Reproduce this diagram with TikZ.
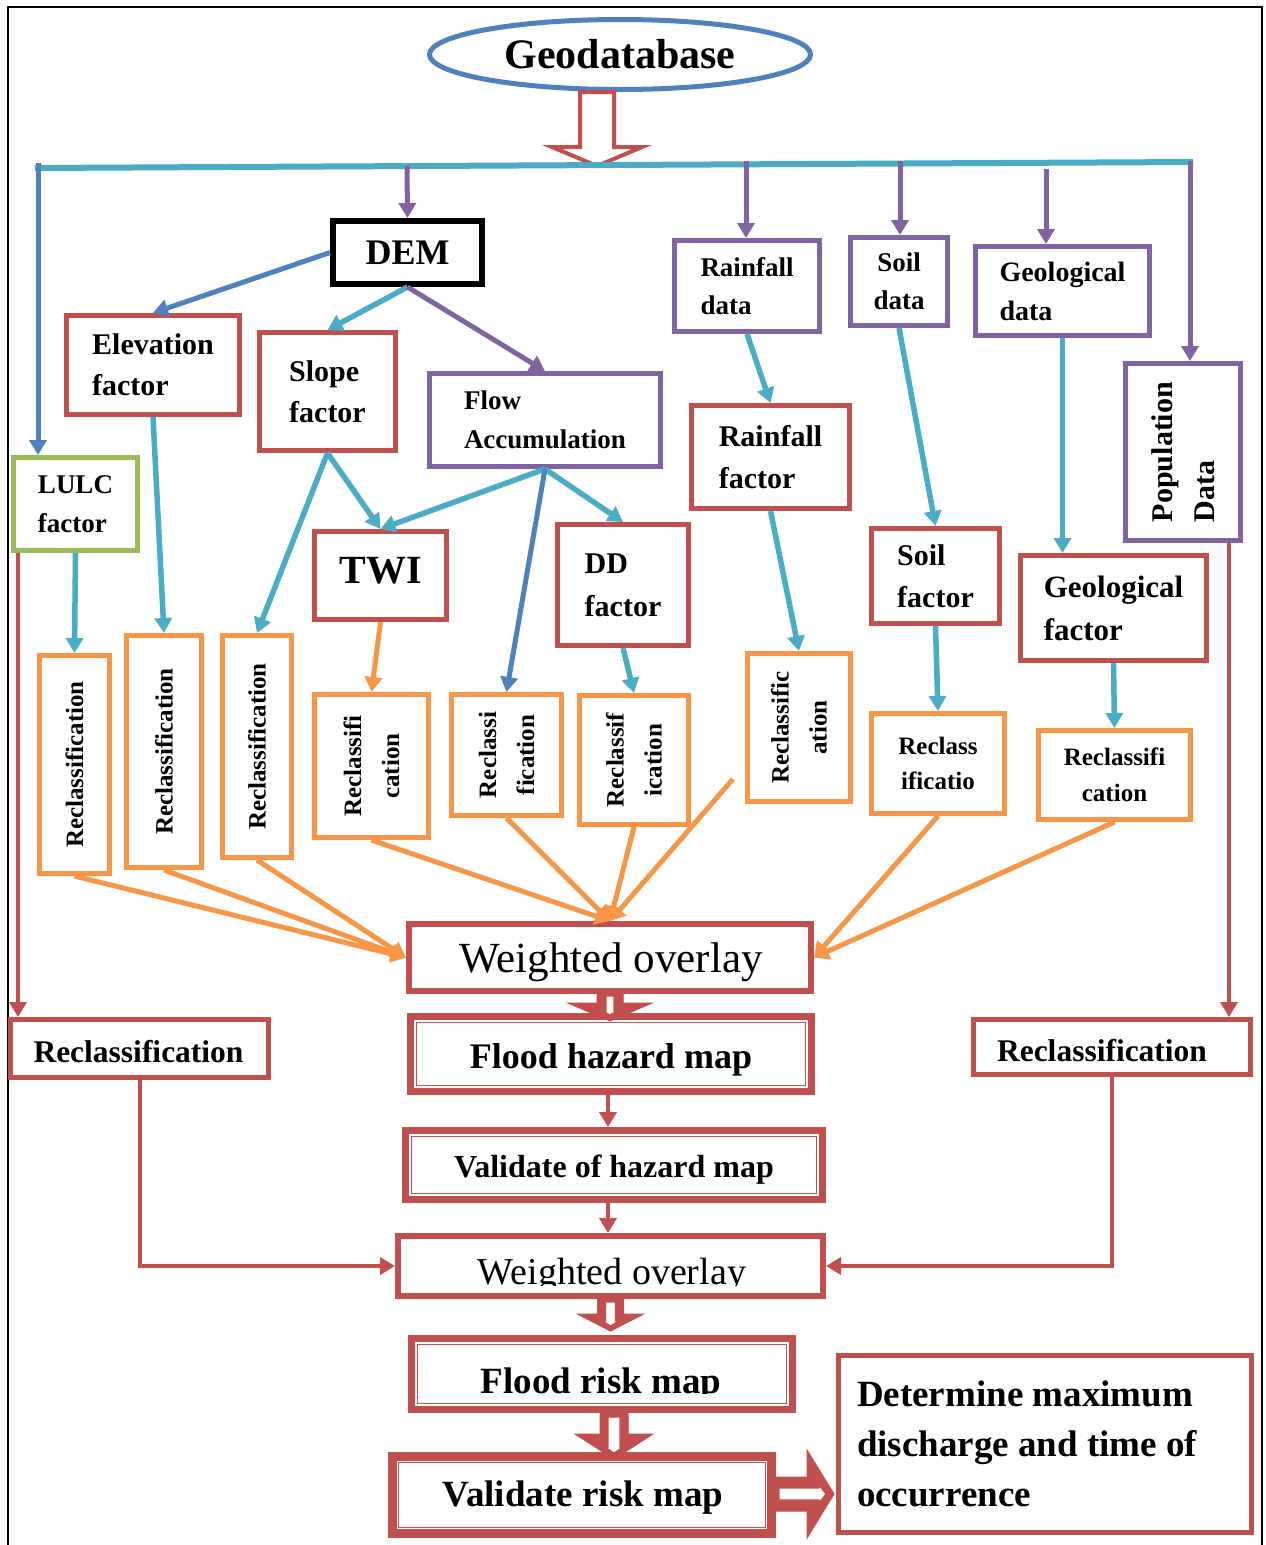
\documentclass[tikz,border=0pt]{standalone}
\usepackage{fontspec}
\setmainfont{Liberation Serif}
\usetikzlibrary{arrows.meta,shapes.geometric,calc}
\definecolor{cRed}{HTML}{C0504D}
\definecolor{cBlue}{HTML}{4F81BD}
\definecolor{cPurple}{HTML}{8064A2}
\definecolor{cTeal}{HTML}{4BACC6}
\definecolor{cOrange}{HTML}{F79646}
\definecolor{cGreen}{HTML}{9BBB59}
\newcommand{\fsz}[2]{\fontsize{#1}{#2}\selectfont}
% vertical block arrow: style, start, end, shaft half width, head half width, head length
\newcommand{\vblk}[6]{%
\path[#1] let \p1=(#2), \p2=(#3) in (\x1-#4,\y1) -- (\x1+#4,\y1) -- (\x1+#4,\y2+#6) -- (\x1+#5,\y2+#6) -- (\x1,\y2) -- (\x1-#5,\y2+#6) -- (\x1-#4,\y2+#6) -- cycle;}
% horizontal block arrow
\newcommand{\hblk}[6]{%
\path[#1] let \p1=(#2), \p2=(#3) in (\x1,\y1+#4) -- (\x2-#6,\y1+#4) -- (\x2-#6,\y1+#5) -- (\x2,\y1) -- (\x2-#6,\y1-#5) -- (\x2-#6,\y1-#4) -- (\x1,\y1-#4) -- cycle;}
\tikzset{
 sz/.style 2 args={minimum width=#1pt, minimum height=#2pt},
 bx/.style={draw, line width=5pt, inner sep=0pt, align=left, text=black},
 rbox/.style={bx, draw=cRed},
 pbox/.style={bx, draw=cPurple},
 obox/.style={bx, draw=cOrange},
 gbox/.style={bx, draw=cGreen},
 kbox/.style={bx, draw=black, line width=6pt},
 dbl/.style={bx, draw=cRed, line width=7pt},
 arrtip/.style={-{Triangle[length=15pt,width=17pt]}},
 tl/.style={arrtip, draw=cTeal, line width=5.5pt},
 pl/.style={arrtip, draw=cPurple, line width=5pt},
 bl/.style={arrtip, draw=cBlue, line width=5pt},
 ol/.style={arrtip, draw=cOrange, line width=5pt},
 rl/.style={arrtip, draw=cRed, line width=4pt},
 bigblk/.style={draw=cRed, fill=cRed, line width=1pt},
 slit/.style={draw=cRed, fill=white, line width=1.2pt},
 rtxt/.style={rotate=90, inner sep=0pt, align=center, font=\bfseries\fsz{25}{38}},
 inner/.style={draw=cRed, line width=1.8pt},
}
\begin{document}
\begin{tikzpicture}[x=1pt,y=-1pt]
\fill[white] (0,0) rectangle (1266,1545);
\useasboundingbox (0,0) rectangle (1266,1545);
\draw[black, line width=2pt] (8,1545) -- (8,7) -- (1262,7) -- (1262,1545);

% Geodatabase
\node[ellipse, draw=cBlue, line width=5pt, minimum width=381pt, minimum height=70pt, inner sep=0pt, font=\bfseries\fsz{42}{50}] (geo) at (620,54.5) {Geodatabase};
\coordinate (geotip) at (597,166);
\vblk{draw=cRed, fill=white, line width=4pt}{$(geo.south)+(-23,0)$}{geotip}{17pt}{45pt}{19pt}

% bus
\coordinate (busL) at (35,168);
\coordinate (busR) at (1193,162);
\draw[cTeal, line width=6pt] (busL) -- (busR);
\coordinate (dLulc) at (38,163);
\coordinate (dDem) at (407,166);
\coordinate (dRain) at (746,161);
\coordinate (dSoil) at (900,161);
\coordinate (dGeo) at (1046,169);
\coordinate (dPop) at (1190,161);

% nodes
\node[kbox, sz={149}{63}, font=\bfseries\fsz{36}{40}] (dem) at (407.5,252.5) {DEM};
\node[rbox, sz={173}{99}, font=\bfseries\fsz{30}{41}] (elev) at (153,365) {Elevation\\factor};
\node[rbox, sz={136}{118}, font=\bfseries\fsz{30}{41}] (slope) at (327.5,391.5) {Slope\\factor};
\node[pbox, sz={231}{93}, font=\bfseries\fsz{27}{39}] (flow) at (545,420) {Flow\\Accumulation};
\node[pbox, sz={145}{91}, font=\bfseries\fsz{27}{38}] (rdata) at (747,286) {Rainfall\\data};
\node[pbox, sz={97}{88}, align=center, font=\bfseries\fsz{27}{38}] (sdata) at (899,281.5) {Soil\\data};
\node[pbox, sz={174}{89}, font=\bfseries\fsz{28}{39}] (gdata) at (1062.5,291) {Geological\\data};
\node[pbox, sz={115}{177}] (pop) at (1183,452) {};
\node[rotate=90, align=left, inner sep=0pt, font=\bfseries\fsz{30}{42}] (popt) at (pop) {Population\\Data};
\node[gbox, sz={124}{93}, font=\bfseries\fsz{27}{39}] (lulc) at (75.5,504) {LULC\\factor};
\node[rbox, sz={158}{103}, font=\bfseries\fsz{30}{42}] (rfac) at (770.5,457) {Rainfall\\factor};
\node[rbox, sz={132}{88}] (twi) at (380.5,575.5) {};
\node[inner sep=0pt, font=\bfseries\fsz{40}{44}] (twit) at ($(twi)+(0,-5)$) {TWI};
\node[rbox, sz={131}{121}, font=\bfseries\fsz{30}{43}] (dd) at (623,585) {DD\\factor};
\node[rbox, sz={128}{95}, font=\bfseries\fsz{30}{42}] (sfac) at (935.5,576) {Soil\\factor};
\node[rbox, sz={186}{105}, font=\bfseries\fsz{31}{43}] (gfac) at (1113.5,608) {Geological\\factor};

% reclassification boxes
\node[obox, sz={70}{218}] (r1) at (74.5,764.5) {};
\node[rtxt] (r1t) at (r1) {Reclassification};
\node[obox, sz={75}{232}] (r2) at (164,751.5) {};
\node[rtxt] (r2t) at (r2) {Reclassification};
\node[obox, sz={69}{222}] (r3) at (257,746.5) {};
\node[rtxt] (r3t) at (r3) {Reclassification};
\node[obox, sz={114}{143}] (r4) at (371.5,766) {};
\node[rtxt] (r4t) at (r4) {Reclassifi\\cation};
\node[obox, sz={110}{121}] (r5) at (506.5,755) {};
\node[rtxt] (r5t) at (r5) {Reclassi\\fication};
\node[obox, sz={109}{129}] (r6) at (634,760) {};
\node[rtxt] (r6t) at (r6) {Reclassif\\ication};
\node[obox, sz={103}{148}] (r7) at (799,727.5) {};
\node[rtxt] (r7t) at (r7) {Reclassific\\ation};
\node[obox, sz={133}{100}, align=center, font=\bfseries\fsz{25}{35}] (r8) at (938,763.5) {Reclass\\ificatio};
\node[obox, sz={152}{89}, align=center, font=\bfseries\fsz{25}{36}] (r9) at (1114.5,775) {Reclassifi\\cation};
\coordinate (r7tail) at (733,779);

% lower part
\node[rbox, line width=6pt, sz={402}{67}] (wo1) at (610,957.5) {};
\node[inner sep=0pt, font=\fsz{43}{47}] (wo1t) at ($(wo1)+(1,5)$) {Weighted overlay};
\node[dbl, sz={401}{75}] (fhm) at (611,1054) {};
\node[inner sep=0pt, font=\bfseries\fsz{36}{40}] (fhmt) at ($(fhm)+(0,6)$) {Flood hazard map};
\node[dbl, sz={417}{69}] (vhm) at (614,1165) {};
\node[inner sep=0pt, font=\bfseries\fsz{32}{36}] (vhmt) at ($(vhm)+(0,5)$) {Validate of hazard map};
\node[rbox, line width=6pt, sz={425}{60}] (wo2) at (610.5,1266) {};
\begin{scope}
\clip (395,1236) rectangle (826,1285);
\node[anchor=base, inner sep=0pt, font=\fsz{38}{40}] (wo2t) at (612,1284) {Weighted overlay};
\end{scope}
\node[dbl, sz={381}{71}] (frm) at (602,1374) {};
\begin{scope}
\clip (405,1340) rectangle (800,1393);
\node[anchor=base, inner sep=0pt, font=\bfseries\fsz{37}{40}] (frmt) at (601,1393) {Flood risk map};
\end{scope}
\node[dbl, line width=9pt, sz={379}{77}] (vrm) at (582,1495) {};
\node[inner sep=0pt, font=\bfseries\fsz{37}{40}] (vrmt) at ($(vrm)+(1,3)$) {Validate risk map};
\node[rbox, sz={413}{177}, text width=376pt, font=\bfseries\fsz{37}{50}] (det) at (1045,1444) {\spaceskip=0.25em plus 0.1em\relax Determine maximum\\discharge and time of\\occurrence};
\node[rbox, sz={258}{58}] (recL) at (139.5,1048.5) {};
\node[inner sep=0pt, font=\bfseries\fsz{31.5}{36}] (recLt) at ($(recL)+(-1,3)$) {Reclassification};
\node[rbox, sz={277}{55}] (recR) at (1112,1047) {};
\node[inner sep=0pt, font=\bfseries\fsz{31.5}{36}] (recRt) at ($(recR)+(-10,4)$) {Reclassification};
\foreach \n in {fhm,vhm,frm}
  \draw[inner] ([shift={(9.5pt,-9.5pt)}]\n.north west) rectangle ([shift={(-9.5pt,9.5pt)}]\n.south east);
\draw[inner] ([shift={(10.5pt,-10.5pt)}]vrm.north west) rectangle ([shift={(-10.5pt,10.5pt)}]vrm.south east);

% drops from bus
\draw[bl] (dLulc) -- (dLulc |- lulc.north);
\draw[pl] (dDem) -- (dem.north);
\draw[pl] (dRain) -- (dRain |- rdata.north);
\draw[pl] (dSoil) -- (dSoil |- sdata.north);
\draw[pl] (dGeo) -- (dGeo |- gdata.north);
\draw[pl] (dPop) -- (dPop |- pop.north);

% connectors
\draw[bl] (dem.west) -- (elev.north);
\draw[tl] (dem.south) -- (slope.north);
\draw[pl] (dem.south) -- (flow.north);
\draw[tl] (elev.south) -- (r2.north);
\draw[tl] (slope.south) -- (r3.north);
\draw[tl] (slope.south) -- (twi.north);
\draw[tl] (flow.south) -- (twi.north);
\draw[tl] (flow.south) -- (dd.north);
\draw[bl] (flow.south) -- (r5.north);
\draw[tl] (lulc.south) -- (r1.north);
\draw[ol] (twi.south) -- (r4.north);
\draw[tl] (dd.south) -- (r6.north);
\draw[tl] (rdata.south) -- (rfac.north);
\draw[tl] (rfac.south) -- (r7.north);
\draw[tl] (sdata.south) -- (sfac.north);
\draw[tl] (sfac.south) -- (r8.north);
\draw[tl] (gdata.south) -- (gdata.south |- gfac.north);
\draw[tl] (gfac.south) -- (r9.north);

\foreach \r in {r1,r2,r3} \draw[ol] (\r.south) -- (wo1.west);
\foreach \r in {r4,r5,r6} \draw[ol] (\r.south) -- (wo1.north);
\draw[ol] (r7tail) -- (wo1.north);
\draw[ol] (r8.south) -- (wo1.east);
\draw[ol] (r9.south) -- (wo1.east);

\coordinate (lulcR) at ([xshift=7pt]lulc.south west);
\coordinate (popR) at ([xshift=-14pt]pop.south east);
\draw[rl] (lulcR) -- (lulcR |- recL.north);
\draw[rl] (popR) -- (popR |- recR.north);
\draw[rl] (recL.south) |- (wo2.west);
\draw[rl] (recR.south) |- (wo2.east);
\draw[rl] ([xshift=-3pt]fhm.south) -- ([xshift=-3pt]fhm.south |- vhm.north);
\draw[rl] ([xshift=-6pt]vhm.south) -- ([xshift=-6pt]vhm.south |- wo2.north);

% block arrows
\vblk{bigblk}{$(wo1.south)+(0,-3)$}{$(fhm.north)+(0,8)$}{13pt}{42pt}{18pt}
\vblk{slit}{$(wo1.south)+(0,2)$}{$(fhm.north)+(0,2)$}{4pt}{7pt}{4pt}
\vblk{bigblk}{$(wo2.south)+(0,-3)$}{$(frm.north)+(0,-4)$}{13pt}{33pt}{17pt}
\vblk{slit}{$(wo2.south)+(0,3)$}{$(frm.north)+(0,-9)$}{5pt}{8pt}{5pt}
\vblk{bigblk}{$(frm.south)+(12,-2)$}{$(vrm.north)+(0,7)$}{14pt}{39pt}{25pt}
\vblk{slit}{$(frm.south)+(12,4)$}{$(vrm.north)+(0,1)$}{6pt}{9pt}{6pt}
\hblk{bigblk}{$(vrm.east)+(-2,-1)$}{$(det.west)+(-2,0)$}{17pt}{44pt}{27pt}
\hblk{slit}{$(vrm.east)+(3,-1)$}{$(det.west)+(-10,0)$}{6pt}{9pt}{7pt}
\end{tikzpicture}
\end{document}
